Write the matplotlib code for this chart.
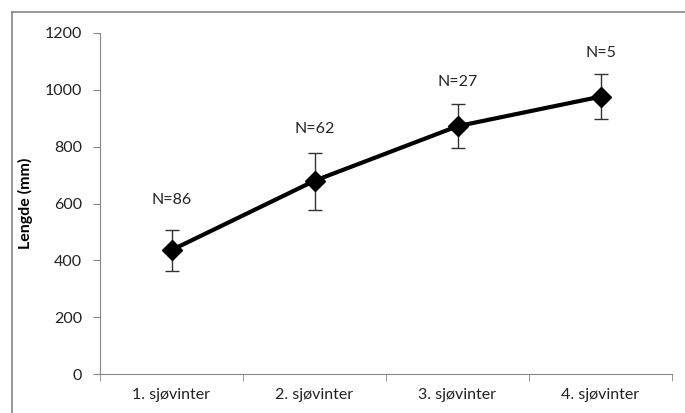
#!/usr/bin/env python3
import numpy as np
import matplotlib.pyplot as plt
from matplotlib.lines import Line2D

categories = ["1. sjøvinter", "2. sjøvinter", "3. sjøvinter", "4. sjøvinter"]
lengde = [436, 680, 872, 976]
err_low = [73, 104, 76, 80]
err_high = [70, 99, 77, 81]
n_labels = ["N=86", "N=62", "N=27", "N=5"]
n_label_y = [612, 861, 1027, 1129]


def main():
    plt.rcParams["font.family"] = ["Lato", "DejaVu Sans"]
    grey = "#868686"
    fs = 11.5

    fig = plt.figure(figsize=(6.85, 4.13), dpi=100)
    ax = fig.add_axes([100 / 685, 1 - 374 / 413, 572 / 685, 341 / 413])

    x = np.arange(len(categories))
    ax.errorbar(x, lengde, yerr=[err_low, err_high], color="black", lw=3,
                marker="D", ms=10, ecolor="#333333", elinewidth=1,
                capsize=5, capthick=1, zorder=3)

    for xi, lab, ly in zip(x, n_labels, n_label_y):
        ax.text(xi, ly, lab, ha="center", va="center", fontsize=fs,
                color="#222222")

    ax.set_xlim(-0.5, len(categories) - 0.5)
    ax.set_ylim(0, 1200)
    ax.set_yticks(range(0, 1201, 200))
    ax.set_xticks(x)
    ax.set_xticklabels(categories, fontsize=fs, color="#222222")
    ax.set_xticks(np.arange(-0.5, len(categories), 1.0), minor=True)
    ax.tick_params(axis="x", which="major", length=0, pad=10)
    ax.tick_params(axis="x", which="minor", length=5, color=grey, direction="out")
    ax.tick_params(axis="y", length=5, color=grey, direction="out", pad=8,
                   labelsize=fs, labelcolor="#222222")

    ax.set_ylabel("Lengde (mm)", fontsize=fs, fontweight="bold", labelpad=8)

    for side in ["top", "right"]:
        ax.spines[side].set_visible(False)
    for side in ["left", "bottom"]:
        ax.spines[side].set_color(grey)

    # outer chart border (only left and top visible in the crop)
    fig.add_artist(Line2D([12 / 685, 12 / 685], [0, 1 - 12 / 413],
                          transform=fig.transFigure, color=grey, lw=1.2))
    fig.add_artist(Line2D([12 / 685, 1], [1 - 12 / 413, 1 - 12 / 413],
                          transform=fig.transFigure, color=grey, lw=1.2))

    fig.savefig("out.png", dpi=100)


if __name__ == "__main__":
    main()
